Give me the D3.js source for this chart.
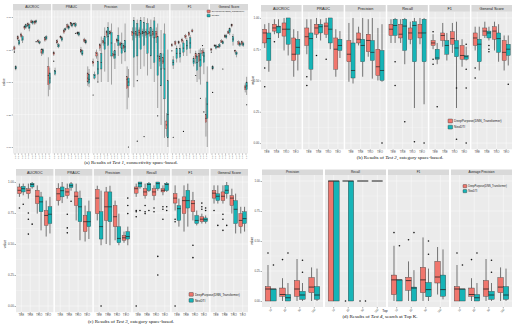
<!DOCTYPE html>
<html><head><meta charset="utf-8">
<script src="https://cdn.jsdelivr.net/npm/d3@7/dist/d3.min.js"></script>
<style>body{margin:0;background:#fff}svg{display:block}</style>
</head><body>
<svg id="c" width="520" height="334"></svg>
<script>
// ---------- shared ----------
const metrics = ["AUCROC","PRAUC","Precision","Recall","F1","General Score"];
const metricsD = ["Precision","Recall","F1","Average Precision"];
const seriesNames = ["DeepPurpose(DNN_Transformer)","NeoDTI"];
const yTicks = [0,0.25,0.5,0.75,1];
const yTickLabels = ["0.00","0.25","0.50","0.75","1.00"];
const catsA = ["0.0","0.1","0.2","0.3","0.4","0.5","0.6","0.7","0.8","0.9","1.0"];
const catsBC = ["TEE","TRE","TRO","TEO"];
const catsD = ["10","20","50","100"];

// box = [lower whisker, q1, median, q3, upper whisker]
// ---------- (a) Test 1 ----------
const aDeep = [
[[.73,.75,.76,.77,.78],[.82,.83,.84,.85,.86],[.84,.85,.86,.87,.88],[.90,.91,.92,.93,.94],[.92,.93,.94,.95,.96],[.95,.96,.96,.97,.98],[.94,.95,.96,.97,.97],[.80,.81,.81,.82,.83],[.70,.72,.73,.75,.76],[.81,.82,.83,.84,.85],[.39,.48,.55,.62,.69]],
[[.70,.71,.72,.73,.74],[.79,.80,.81,.82,.83],[.83,.84,.845,.85,.86],[.87,.88,.89,.90,.91],[.91,.92,.93,.94,.95],[.93,.94,.95,.96,.96],[.93,.94,.95,.95,.96],[.86,.87,.875,.88,.89],[.72,.73,.74,.75,.77],[.80,.81,.82,.83,.84],[.47,.50,.53,.57,.62]],
[[.62,.64,.65,.66,.68],[.68,.70,.72,.73,.75],[.74,.76,.78,.79,.80],[.78,.80,.81,.82,.84],[.84,.86,.88,.89,.90],[.86,.87,.88,.89,.90],[.68,.70,.71,.72,.74],[.80,.81,.82,.83,.84],[.76,.78,.79,.80,.81],[.74,.76,.77,.78,.80],[.29,.45,.52,.54,.62]],
[[.82,.86,.88,.89,.92],[.84,.86,.87,.89,.92],[.84,.86,.88,.90,.92],[.85,.87,.88,.89,.91],[.84,.86,.88,.89,.91],[.85,.87,.88,.89,.92],[.84,.86,.87,.89,.91],[.80,.84,.87,.89,.92],[.62,.66,.68,.70,.72],[.60,.64,.66,.69,.72],[.08,.14,.17,.20,.26]],
[[.77,.78,.78,.79,.80],[.78,.79,.80,.81,.82],[.79,.80,.80,.81,.82],[.80,.81,.82,.83,.84],[.83,.84,.85,.86,.87],[.85,.86,.87,.88,.89],[.88,.89,.89,.90,.91],[.64,.68,.70,.72,.74],[.52,.66,.70,.72,.75],[.70,.72,.73,.74,.76],[.08,.19,.22,.25,.38]],
[[.74,.745,.75,.755,.76],[.77,.775,.78,.785,.79],[.76,.765,.77,.775,.78],[.80,.805,.81,.82,.83],[.84,.845,.85,.86,.87],[.87,.875,.88,.89,.90],[.92,.93,.94,.945,.95],[.72,.735,.74,.745,.75],[.78,.79,.80,.81,.82],[.78,.79,.80,.81,.82],[.42,.44,.46,.47,.49]]
];
const aNeo = [
[[.59,.60,.61,.62,.63],[.78,.79,.80,.82,.83],[.80,.82,.83,.85,.86],[.91,.92,.93,.94,.95],[.89,.91,.92,.94,.95],[.94,.95,.96,.97,.97],[.95,.96,.97,.97,.98],[.79,.80,.80,.81,.82],[.71,.72,.74,.75,.76],[.82,.83,.84,.85,.86],[.44,.49,.53,.57,.61]],
[[.55,.56,.58,.59,.61],[.76,.77,.78,.79,.80],[.81,.82,.83,.84,.85],[.89,.90,.905,.91,.92],[.90,.91,.92,.93,.94],[.92,.93,.94,.95,.95],[.92,.93,.94,.95,.96],[.85,.86,.87,.88,.89],[.70,.71,.72,.74,.75],[.79,.80,.81,.82,.83],[.46,.49,.52,.56,.60]],
[[.52,.53,.55,.56,.58],[.50,.56,.60,.66,.72],[.50,.60,.65,.72,.85],[.58,.75,.80,.85,.92],[.50,.78,.85,.92,.96],[.48,.70,.80,.88,.95],[.60,.68,.71,.74,.80],[.70,.78,.82,.86,.92],[.64,.72,.76,.80,.88],[.66,.73,.77,.82,.95],[.38,.47,.50,.53,.60]],
[[.46,.69,.875,.975,1.0],[.55,.70,.86,.95,.98],[.60,.75,.87,.975,1.0],[.62,.78,.88,.96,1.0],[.55,.72,.87,.95,.99],[.60,.70,.86,.92,.98],[.50,.65,.84,.97,1.0],[.30,.55,.70,.85,.95],[.17,.47,.60,.72,.90],[.07,.37,.60,.87,.95],[.0,.07,.25,.51,.75]],
[[.60,.63,.65,.67,.70],[.65,.68,.72,.76,.78],[.65,.69,.72,.76,.79],[.70,.73,.76,.80,.82],[.70,.75,.78,.82,.84],[.72,.76,.80,.84,.86],[.62,.64,.66,.68,.70],[.50,.59,.65,.70,.72],[.48,.62,.67,.72,.76],[.56,.65,.70,.73,.76],[.0,.22,.33,.50,.62]],
[[.59,.60,.61,.62,.63],[.75,.76,.77,.78,.79],[.76,.77,.78,.79,.80],[.79,.795,.80,.81,.82],[.83,.84,.85,.86,.87],[.86,.88,.90,.91,.92],[.78,.81,.83,.85,.87],[.69,.71,.72,.73,.74],[.77,.78,.79,.80,.81],[.77,.78,.79,.80,.81],[.40,.44,.47,.50,.54]]
];
// outliers: [facet, category, series (0 deep / 1 neo), value]
const aOut = [[0,0,0,.73],[0,6,1,.81],[1,0,0,.66],[1,6,1,.875],[2,0,0,.40],[2,1,1,.50],[2,10,1,0],
[3,1,1,.045],[3,3,1,.08],[3,7,1,.24],[3,1,1,.51],[4,0,1,.075],[4,0,0,.74],[4,3,1,.12],[4,7,0,.55],[4,8,1,.375],[4,9,1,.27],[4,9,0,.78],
[5,0,0,.73],[5,0,1,.42],[5,3,1,.60],[5,10,1,.325]];

// ---------- (b) Test 2 ----------
const bDeep = [
[[.76,.80,.88,.91,.95],[.87,.895,.92,.95,.99],[.74,.855,.91,.96,1.0],[.53,.66,.71,.84,.91]],
[[.71,.78,.85,.92,.99],[.84,.87,.92,.95,1.0],[.84,.87,.935,.96,1.0],[.53,.59,.75,.84,.91]],
[[.49,.65,.71,.82,.96],[.78,.80,.83,.88,.93],[.69,.73,.82,.87,.99],[.50,.54,.61,.75,.92]],
[[.80,.86,.91,.95,.99],[.80,.84,.87,.95,.99],[.79,.83,.88,.92,.97],[.79,.84,.88,.95,1.0]],
[[.75,.78,.80,.82,.87],[.77,.82,.86,.88,.96],[.72,.79,.835,.89,.96],[.61,.67,.70,.78,.83]],
[[.74,.78,.84,.88,.93],[.84,.86,.895,.92,.97],[.74,.83,.895,.93,.97],[.58,.66,.725,.82,.86]]
];
const bNeo = [
[[.57,.66,.835,.88,.96],[.84,.88,.93,.935,.99],[.70,.79,.91,1.0,1.0],[.58,.71,.765,.83,.895]],
[[.50,.59,.835,.88,.99],[.82,.88,.93,.95,.99],[.75,.80,.91,1.0,1.0],[.68,.74,.78,.83,.895]],
[[.476,.52,.58,.80,1.0],[.53,.65,.78,.83,1.0],[.515,.66,.725,.82,1.0],[.49,.50,.58,.74,.95]],
[[.80,.86,.94,.99,1.0],[.63,.74,.935,.99,1.0],[.28,.65,.94,.97,1.0],[.31,.65,.88,.99,1.0]],
[[.63,.67,.68,.75,.80],[.66,.71,.78,.82,.88],[.28,.69,.76,.82,.97],[.66,.67,.69,.70,.77]],
[[.58,.65,.79,.83,.93],[.82,.84,.88,.895,.93],[.65,.725,.835,.88,.95],[.62,.70,.75,.79,.86]]
];
const bOut = [[0,0,0,.60],[0,0,0,.45],[0,1,0,.81],[1,0,0,.53],[1,0,0,.46],[1,1,0,.70],[1,2,0,.67],[2,3,1,0],
[3,0,1,.65],[3,0,1,.46],[3,1,1,.17],[3,2,1,.01],[3,3,1,0],
[4,0,0,.89],[4,0,0,.67],[4,0,0,.63],[4,0,1,.29],[4,2,1,.44],[4,2,1,.03],[4,3,1,.79],[4,3,1,.59],[4,3,1,.44],[4,3,1,0],
[5,0,0,.60],[5,0,0,.52],[5,1,1,.78],[5,1,1,.75],[5,1,1,.73],[5,3,1,.47]];

// ---------- (c) Test 3 ----------
const cDeep = [
[[.88,.906,.933,.96,.987],[.866,.906,.933,.946,.987],[.745,.826,.885,.933,.973],[.56,.65,.73,.77,.85]],
[[.81,.85,.905,.95,.99],[.866,.89,.92,.946,.987],[.69,.81,.885,.92,.987],[.52,.60,.68,.73,.81]],
[[.69,.745,.87,.94,.97],[.50,.69,.80,.92,.96],[.53,.64,.72,.81,.85],[.51,.53,.55,.57,.60]],
[[.88,.91,.946,.96,.987],[.866,.89,.92,.946,.987],[.853,.89,.92,.946,.973],[.893,.92,.933,.946,.973]],
[[.77,.83,.87,.906,.973],[.60,.745,.85,.88,.973],[.69,.76,.826,.85,.92],[.665,.68,.70,.72,.745]],
[[.826,.87,.91,.933,.973],[.826,.85,.885,.92,.973],[.745,.81,.87,.89,.946],[.585,.64,.69,.745,.80]]
];
const cNeo = [
[[.893,.92,.946,.965,.987],[.946,.96,.98,.99,1.0],[.61,.76,.84,.88,.92],[.585,.665,.74,.80,.88]],
[[.83,.88,.93,.96,1.0],[.93,.955,.97,.985,1.0],[.53,.68,.80,.87,.93],[.54,.64,.68,.76,.85]],
[[.49,.54,.64,.76,.93],[.49,.68,.80,.92,.97],[.49,.51,.545,.64,.745],[.49,.54,.56,.60,.64]],
[[.946,.96,.987,1.0,1.0],[.92,.93,.98,.99,1.0],[.93,.946,.987,1.0,1.0],[.92,.93,.98,.99,1.0]],
[[.64,.69,.785,.81,.866],[.64,.79,.85,.933,.987],[.65,.665,.69,.73,.77],[.665,.68,.696,.71,.73]],
[[.826,.85,.885,.905,.973],[.866,.905,.933,.973,1.0],[.585,.665,.78,.85,.906],[.60,.665,.705,.76,.80]]
];
const cOut = [[0,0,0,.79],[0,0,1,.82],[0,1,0,.75],[0,1,0,.70],[0,1,0,.58],[0,1,1,.66],
[1,1,0,.74],[1,1,0,.63],[1,1,0,.59],[1,1,1,.845],[2,0,1,0],[2,3,1,.87],[2,3,1,.81],[2,3,1,.745],
[3,0,0,.77],[3,0,0,.76],[3,0,0,.72],[3,0,0,0],[3,0,1,.77],[3,1,0,.81],[3,1,0,.76],[3,1,0,.745],[3,1,1,.77],
[3,2,0,.79],[3,2,0,.76],[3,2,1,.40],[3,2,1,.25],[3,3,0,.80],[3,3,0,.78],[3,3,0,.70],[3,3,1,.80],[3,3,1,.77],
[4,0,0,.70],[4,0,0,.68],[4,0,0,0],[4,2,0,.49],[4,2,0,.39],[4,3,0,.83],[4,3,0,.80],[4,3,0,.78],[4,3,1,.79],[4,3,1,.77],
[5,0,0,.77],[5,0,1,.65],[5,1,0,.74],[5,1,0,.70],[5,1,0,.61],[5,1,1,.65]];

// ---------- (d) Test 4 ----------
const dDeep = [
[[0,0,.10,.12,.30],[0,.04,.054,.108,.19],[0,.04,.10,.17,.35],[0,.07,.116,.195,.28]],
[[0,0,1,1,1],[1,1,1,1,1],[1,1,1,1,1],[1,1,1,1,1]],
[[0,.054,.176,.216,.46],[0,.09,.17,.197,.33],[0,.07,.176,.28,.53],[.054,.15,.20,.33,.45]],
[[0,0,.10,.12,.30],[0,.04,.054,.108,.19],[0,.04,.10,.17,.35],[0,.07,.116,.195,.28]]
];
const dNeo = [
[[0,0,.10,.10,.10],[0,0,.027,.054,.15],[0,.014,.05,.08,.15],[0,.014,.05,.12,.27]],
[[0,0,1,1,1],[0,0,1,1,1],[1,1,1,1,1],[1,1,1,1,1]],
[[0,0,.176,.176,.176],[0,0,.108,.116,.257],[0,.035,.095,.154,.27],[.014,.04,.095,.216,.43]],
[[0,0,.10,.10,.10],[0,0,.027,.054,.15],[0,.014,.05,.08,.15],[0,.014,.05,.12,.27]]
];
const dOut = [[0,0,0,.40],[0,0,1,.30],[0,1,0,.345],[0,1,1,.40],[0,2,1,.34],[0,2,1,.24],
[1,1,0,0],[1,2,0,0],[1,2,1,0],
[2,0,0,.57],[2,0,1,.46],[2,1,0,.51],[2,1,1,.57],[2,2,1,.50],[2,2,1,.39],
[3,0,0,.40],[3,0,1,.30],[3,1,0,.345],[3,1,1,.40],[3,2,1,.34],[3,2,1,.24]];

// ---------- drawing ----------
const svg = d3.select("#c");
const COL = ["#F0766D","#16B4B7"];
const FONT = "Liberation Sans, Arial, sans-serif";

function panel(o){
  const g = svg.append("g");
  const n = o.facets.length;
  const fw = (o.x1 - o.x0 - (n-1)*o.gap)/n;
  const y = d3.scaleLinear().domain([-0.05,1.05]).range([o.bottom,o.top]);
  o.facets.forEach((name,fi)=>{
    const fx = o.x0 + fi*(fw+o.gap);
    const x = d3.scaleBand().domain(o.cats).range([fx,fx+fw]).paddingInner(0).paddingOuter(0.1);
    const step = x.step(), bw = o.dodge*step/2;
    g.append("rect").attr("x",fx).attr("y",o.top).attr("width",fw).attr("height",o.bottom-o.top).attr("fill","#EBEBEB");
    [0.125,0.375,0.625,0.875].forEach(v=>g.append("line").attr("x1",fx).attr("x2",fx+fw).attr("y1",y(v)).attr("y2",y(v)).attr("stroke","#fff").attr("stroke-width",o.lw*0.5));
    yTicks.forEach(v=>g.append("line").attr("x1",fx).attr("x2",fx+fw).attr("y1",y(v)).attr("y2",y(v)).attr("stroke","#fff").attr("stroke-width",o.lw));
    o.cats.forEach(c=>{const cx=x(c)+step/2; g.append("line").attr("x1",cx).attr("x2",cx).attr("y1",o.top).attr("y2",o.bottom).attr("stroke","#fff").attr("stroke-width",o.lw);});
    g.append("rect").attr("x",fx).attr("y",o.stripTop).attr("width",fw).attr("height",o.top-o.stripTop).attr("fill","#D9D9D9");
    g.append("text").attr("x",fx+fw/2).attr("y",(o.stripTop+o.top)/2).attr("dy","0.35em").attr("text-anchor","middle")
      .attr("font-family",FONT).attr("font-size",o.stripFs).attr("fill","#1A1A1A").text(name);
    [o.deep[fi],o.neo[fi]].forEach((boxes,si)=>{
      boxes.forEach((b,ci)=>{
        const cx = x(o.cats[ci])+step/2 + (si===0?-bw/2:bw/2);
        g.append("line").attr("x1",cx).attr("x2",cx).attr("y1",y(b[0])).attr("y2",y(b[1])).attr("stroke","#555").attr("stroke-width",o.wl);
        g.append("line").attr("x1",cx).attr("x2",cx).attr("y1",y(b[3])).attr("y2",y(b[4])).attr("stroke","#555").attr("stroke-width",o.wl);
        g.append("rect").attr("x",cx-bw/2).attr("y",y(b[3])).attr("width",bw).attr("height",Math.max(0.01,y(b[1])-y(b[3])))
          .attr("fill",COL[si]).attr("stroke","#333").attr("stroke-width",o.bl);
        g.append("line").attr("x1",cx-bw/2).attr("x2",cx+bw/2).attr("y1",y(b[2])).attr("y2",y(b[2])).attr("stroke","#222").attr("stroke-width",o.bl*2);
      });
    });
    o.out.filter(p=>p[0]===fi).forEach(p=>{
      const cx = x(o.cats[p[1]])+step/2 + (p[2]===0?-bw/2:bw/2);
      g.append("circle").attr("cx",cx).attr("cy",y(p[3])).attr("r",o.pr).attr("fill","#111");
    });
    const ax = g.append("g").attr("transform",`translate(0,${o.bottom})`)
      .call(d3.axisBottom(x).tickSize(o.tick).tickPadding(0.5));
    ax.select(".domain").remove();
    ax.selectAll("line").attr("stroke","#333").attr("stroke-width",0.4);
    const tx = ax.selectAll("text").attr("font-family",FONT).attr("font-size",o.tickFs).attr("fill","#4D4D4D");
    if(o.rot===90) tx.attr("transform","rotate(-90)").attr("text-anchor","end").attr("x",-o.tick-0.6).attr("y",0).attr("dy","0.35em");
    if(o.rot===45) tx.attr("transform","rotate(-45)").attr("text-anchor","end").attr("x",-1).attr("y",o.tick+0.5).attr("dy","0.35em");
  });
  const ay = g.append("g").attr("transform",`translate(${o.x0},0)`)
    .call(d3.axisLeft(y).tickValues(yTicks).tickFormat((d,i)=>yTickLabels[i]).tickSize(o.tick).tickPadding(0.6));
  ay.select(".domain").remove();
  ay.selectAll("line").attr("stroke","#333").attr("stroke-width",0.4);
  ay.selectAll("text").attr("font-family",FONT).attr("font-size",o.tickFs).attr("fill","#4D4D4D");
  g.append("text").attr("transform",`translate(${o.yTitleX},${(o.top+o.bottom)/2}) rotate(-90)`).attr("text-anchor","middle")
    .attr("font-family",FONT).attr("font-size",o.titleFs).attr("fill","#1A1A1A").text("value");
  seriesNames.forEach((s,i)=>{
    const ly = o.leg[1] + i*o.leg[3];
    g.append("rect").attr("x",o.leg[0]).attr("y",ly).attr("width",o.leg[2]).attr("height",o.leg[2]*0.85)
      .attr("fill",COL[i]).attr("stroke","#333").attr("stroke-width",0.4).attr("rx",0.6);
    g.append("text").attr("x",o.leg[0]+o.leg[2]+1.5).attr("y",ly+o.leg[2]*0.45).attr("dy","0.35em")
      .attr("font-family",FONT).attr("font-size",o.legFs).attr("fill","#1A1A1A").text(s);
  });
  const cap = svg.append("text").attr("x",o.cap[0]).attr("y",o.cap[1]).attr("text-anchor","middle")
    .attr("font-family","Liberation Serif, Times New Roman, serif").attr("font-size",o.capFs).attr("fill","#111");
  cap.append("tspan").text(o.cap[2]);
  cap.append("tspan").attr("font-style","italic").text(o.cap[3]);
  cap.append("tspan").text(o.cap[4]);
  return {g,y};
}

panel({x0:13,x1:248,gap:1.3,top:10.5,bottom:153.5,stripTop:4,facets:metrics,cats:catsA,deep:aDeep,neo:aNeo,out:aOut,
  dodge:0.8,lw:0.35,wl:0.5,bl:0.3,pr:0.6,tick:1.2,tickFs:2.4,stripFs:3.2,titleFs:3.2,yTitleX:4.5,rot:90,
  leg:[207,10,3.2,4.2],legFs:2.2,capFs:5,cap:[131,164,"(a) Results of ","Test 1",", connectivity space-based."]});
panel({x0:261,x1:512,gap:1.5,top:11.7,bottom:149.3,stripTop:5,facets:metrics,cats:catsBC,deep:bDeep,neo:bNeo,out:bOut,
  dodge:0.85,lw:0.45,wl:0.8,bl:0.35,pr:0.8,tick:1.2,tickFs:2.9,stripFs:3.8,titleFs:3.8,yTitleX:254,rot:0,
  leg:[448,119,4.6,6.2],legFs:3.2,capFs:5,cap:[400,158.5,"(b) Results of ","Test 2",", category space-based."]});
panel({x0:16,x1:248,gap:1.5,top:175.8,bottom:312.2,stripTop:169,facets:metrics,cats:catsBC,deep:cDeep,neo:cNeo,out:cOut,
  dodge:0.85,lw:0.45,wl:0.8,bl:0.35,pr:0.8,tick:1.5,tickFs:3.0,stripFs:3.6,titleFs:3.6,yTitleX:6,rot:0,
  leg:[189,292.5,4.4,6],legFs:3.0,capFs:5,cap:[131,322.5,"(c) Results of ","Test 3",", category space-based."]});
panel({x0:262,x1:512,gap:2,top:175,bottom:307,stripTop:169.5,facets:metricsD,cats:catsD,deep:dDeep,neo:dNeo,out:dOut,
  dodge:0.75,lw:0.45,wl:0.8,bl:0.4,pr:0.8,tick:1.5,tickFs:2.8,stripFs:3.2,titleFs:3.4,yTitleX:252.5,rot:45,
  leg:[463,184.5,3.8,5],legFs:2.6,capFs:5,cap:[380,318,"(d) Results of ","Test 4",", search at Top K."]});
svg.append("text").attr("x",385).attr("y",312).attr("text-anchor","middle").attr("font-family",FONT)
  .attr("font-size",3.4).attr("fill","#1A1A1A").text("Top");
</script>
</body></html>
